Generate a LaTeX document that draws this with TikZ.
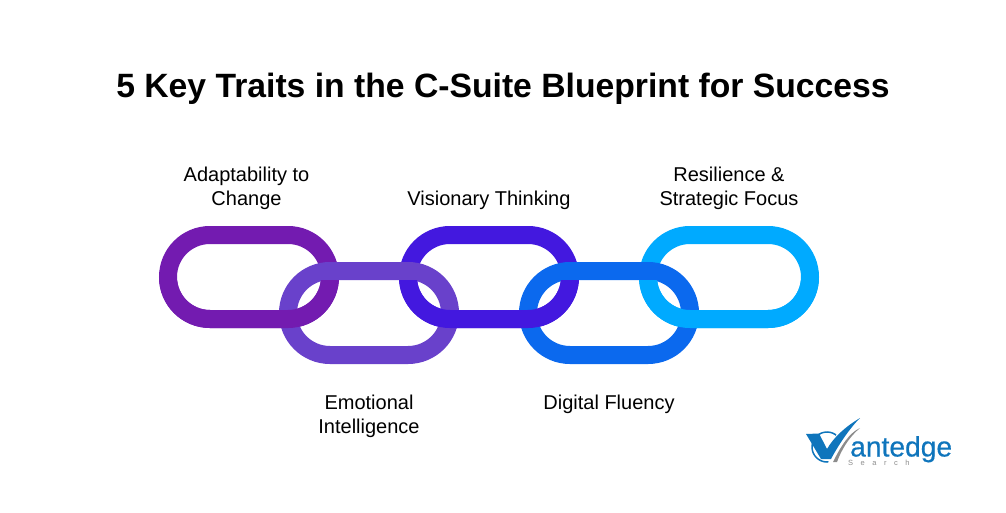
\documentclass[tikz,border=0pt]{standalone}
\usepackage{fontspec}
\setmainfont{Liberation Sans}
\usepackage{tikz}
\usetikzlibrary{shapes.misc}
\definecolor{linkA}{HTML}{731BB0}
\definecolor{linkB}{HTML}{6941CB}
\definecolor{linkC}{HTML}{4318DF}
\definecolor{linkD}{HTML}{0B69EE}
\definecolor{linkE}{HTML}{00AAFF}
\definecolor{logoblue}{HTML}{0F75BC}
\definecolor{logogrey}{HTML}{8C8C8C}
\tikzset{
    chainlink/.style={draw=#1,
        line width=18pt,
        rounded rectangle,
        minimum width=162pt,
        minimum height=84pt,
        inner sep=0pt,
        outer sep=0pt},
    traitlabel/.style={align=center,
        font=\fontsize{20}{24}\selectfont}
}
\begin{document}
\begin{tikzpicture}[x=1pt,y=-1pt]

% Page
\useasboundingbox (0,0) rectangle (1006,513);

% Title
\node[font=\fontsize{33.7}{38}\selectfont\bfseries] (title) at (503,89)
    {5 Key Traits in the C-Suite Blueprint for Success};

% Upper links first
\foreach \name/\posx/\col in {linkone/249/linkA,linkthree/489/linkC,linkfive/729/linkE}
    \node[chainlink=\col] (\name) at (\posx,277) {};

% Lower links go over them
\foreach \name/\posx/\col in {linktwo/369/linkB,linkfour/609/linkD}
    \node[chainlink=\col] (\name) at (\posx,313) {};

% Lower half of upper links again, for the weave
\begin{scope}
    \clip (150,280) rectangle (830,340);
    \foreach \posx/\col in {249/linkA,489/linkC,729/linkE}
        \node[chainlink=\col] at (\posx,277) {};
\end{scope}

% Labels
\node[traitlabel] (adapt) at (246.5,188) {Adaptability to\\Change};
\node[traitlabel] (vision) at (489,200) {Visionary Thinking};
\node[traitlabel] (resil) at (729,188) {Resilience \&\\Strategic Focus};
\node[traitlabel] (emotion) at (369,416) {Emotional\\Intelligence};
\node[traitlabel] (digital) at (609,404) {Digital Fluency};

% Logo: ring, tick and swoosh
\begin{scope}
    \clip (800,425) -- (839,425) -- (826,470) -- (800,470) -- cycle;
    \node[draw=logoblue,circle,line width=1.5pt,minimum size=30pt,inner sep=0pt] (logoring) at (827,447) {};
\end{scope}
\fill[logoblue] (806,434) -- (819,433.5) -- (827,449) .. controls (834,437) and (845,427) .. (860,418)
    .. controls (850,428) and (839,444) .. (831,459) -- (821,459) -- cycle;
\fill[logogrey] (860,428) .. controls (849,433) and (841,446) .. (833,462)
    -- (837,462) .. controls (841,451) and (848,438) .. cycle;

% Logo: lettering
\node[anchor=base west,inner sep=0pt,text=logoblue,font=\fontsize{28.2}{28}\selectfont\addfontfeature{FakeBold=0.4}] (brand) at (850,456.5) {\smash{antedge}};
\node[anchor=base west,inner sep=0pt,text=logogrey,font=\fontsize{7.5}{8}\selectfont\addfontfeature{LetterSpace=100}] (brandsub) at (848,465.5) {Search};

\end{tikzpicture}
\end{document}
